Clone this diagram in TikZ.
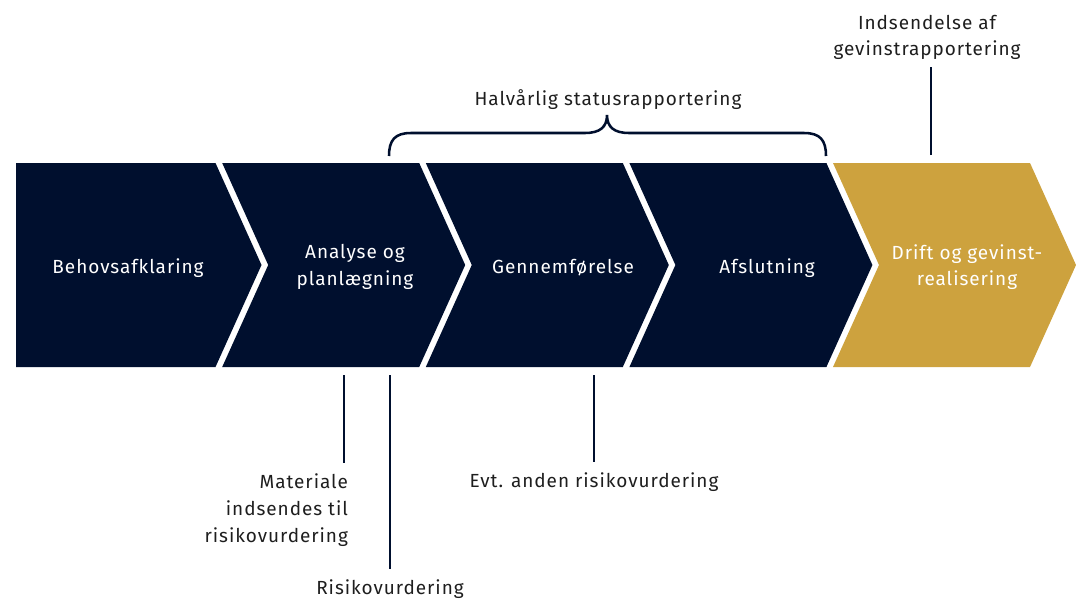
\documentclass[tikz,border=0pt]{standalone}
\usepackage{fontspec}
\setmainfont{Fira Sans}[LetterSpace=5]
\usetikzlibrary{positioning}
\definecolor{navy}{RGB}{0,15,46}
\definecolor{gold}{RGB}{205,162,62}
\definecolor{ink}{RGB}{30,30,30}

\begin{document}
\begin{tikzpicture}[
    x=0.025cm, y=-0.025cm,
    font=\fontsize{13.5}{19}\selectfont,
    phasetext/.style={text=white, align=center, inner sep=0pt},
    note/.style={text=ink, align=center, inner sep=2pt},
    tick/.style={draw=navy, line width=1.8pt, shorten >=5.5pt},
]
\useasboundingbox (0,0) rectangle (1076,598);

\fill[navy] (16,163) -- (215.5,163) -- (261.5,265) -- (215.5,367) -- (16,367) -- cycle;
\foreach \i/\col in {1/navy,2/navy,3/navy,4/gold} {
    \fill[\col] ({18.6+\i*203.6},163) -- ++(197,0) -- ++(46,102) -- ++(-46,102)
        -- ++(-197,0) -- ++(46,-102) -- cycle;
}

\node[phasetext] (behov) at (128,268) {Behovsafklaring};
\node[phasetext] (analyse) at (355,267) {Analyse og\\planlægning};
\node[phasetext] (gennem) at (563,268) {Gennemførelse};
\node[phasetext] (afslut) at (767,268) {Afslutning};
\node[phasetext] (drift) at (967,267) {Drift og gevinst-\\realisering};

\node[note] (halv) at (608,100) {Halvårlig statusrapportering};
\draw[tick, shorten >=0pt] (389,156) .. controls (389,140) and (395,133) .. (411,133) -- (585,133)
    .. controls (600,133) and (607,127) .. (607,115)
    .. controls (607,127) and (614,133) .. (629,133) -- (804,133)
    .. controls (820,133) and (826,140) .. (826,156);

\node[note, anchor=south] (indsend) at (927,63) {Indsendelse af\\gevinstrapportering};
\coordinate (g1) at (931,155);
\draw[tick, shorten >=3pt] (g1) -- (g1 |- indsend.south);

\node[note, align=right, anchor=north east] (materiale) at (351,471) {Materiale\\indsendes til\\risikovurdering};
\coordinate (m1) at (344,375);
\draw[tick] (m1) -- (m1 |- materiale.north);

\node[note, anchor=north] (risiko) at (390,577) {Risikovurdering};
\coordinate (r1) at (390,375);
\draw[tick] (r1) -- (risiko.north);

\node[note, anchor=north] (evt) at (594,470) {Evt. anden risikovurdering};
\coordinate (e1) at (594,375);
\draw[tick] (e1) -- (e1 |- evt.north);
\end{tikzpicture}
\end{document}
